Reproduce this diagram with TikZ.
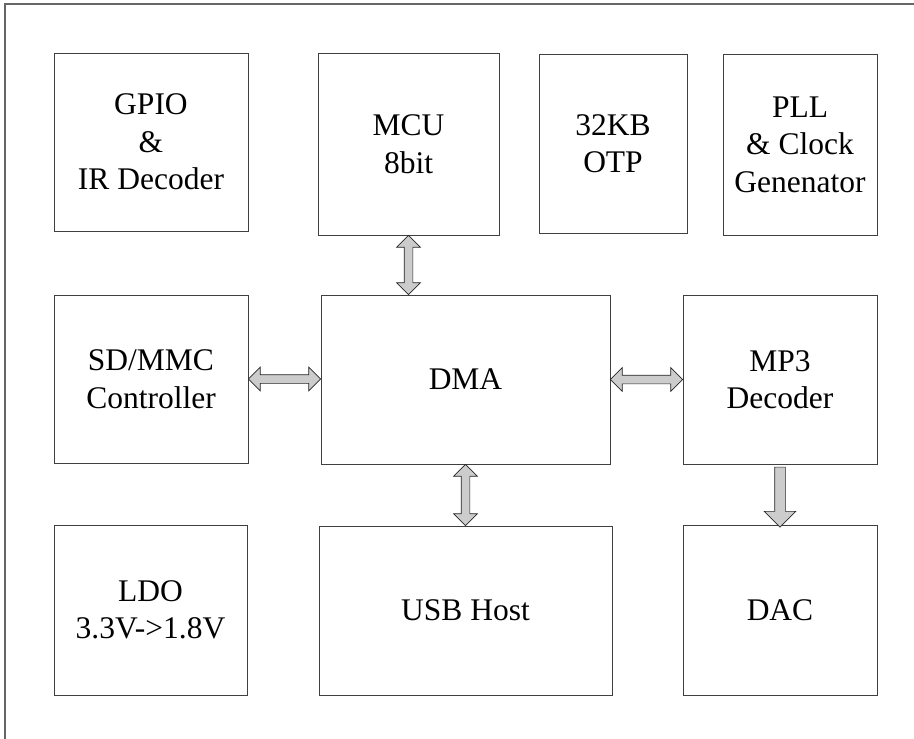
\documentclass[tikz,border=0pt]{standalone}
\usepackage{fontspec}
\setmainfont{Liberation Serif}
\usetikzlibrary{shapes.arrows,calc}
\tikzset{
	blk/.style={draw=black!75, line width=0.9pt, inner sep=0pt, align=center, font=\fontsize{31.5}{37.5}\selectfont},
	busarrow/.style={double arrow, draw=black!85, fill=black!20, line width=0.7pt, inner xsep=0pt, inner ysep=4pt, double arrow head extend=7.5pt, double arrow tip angle=90, sloped, allow upside down},
	outarrow/.style={single arrow, draw=black!85, fill=black!20, line width=0.7pt, inner xsep=0pt, inner ysep=5pt, single arrow head extend=10.5pt, single arrow tip angle=90, sloped, allow upside down}
}
\begin{document}
\begin{tikzpicture}[x=1pt, y=-1pt]
			\useasboundingbox (0, 0) rectangle (914, 739);
			\draw[black!60, line width=1.3pt] (5, 739) -- (5, 4) -- (914, 4);
			\node[blk, minimum width=194pt, minimum height=178pt] (gpio) at (151, 142) {GPIO\\\&\\IR Decoder};
			\node[blk, minimum width=181pt, minimum height=182pt] (mcu) at (408.5, 144) {MCU\\8bit};
			\node[blk, minimum width=148pt, minimum height=179pt] (otp) at (613, 143.5) {32KB\\OTP};
			\node[blk, minimum width=154pt, minimum height=181pt] (pll) at (800, 144.5) {PLL\\\& Clock\\Genenator};
			\node[blk, minimum width=194pt, minimum height=168pt] (sd) at (151, 379) {SD/MMC\\Controller};
			\node[blk, minimum width=289pt, minimum height=169pt] (dma) at (465.5, 379.5) {DMA};
			\node[blk, minimum width=194pt, minimum height=169pt] (mp3) at (780, 379.5) {MP3\\Decoder};
			\node[blk, minimum width=193pt, minimum height=170pt] (ldo) at (150.5, 610) {LDO\\3.3V->1.8V};
			\node[blk, minimum width=293pt, minimum height=169pt] (usb) at (465.5, 610.5) {USB Host};
			\node[blk, minimum width=194pt, minimum height=170pt] (dac) at (780, 610) {DAC};
			\path let \p1=(mcu.south), \p2=(mcu.south |- dma.north), \n1={veclen(\x2-\x1,\y2-\y1)} in
				(\p1) -- (\p2) node[busarrow, midway, minimum height=\n1] (mcubus) {};
			\path let \p1=(dma.south), \p2=(dma.south |- usb.north), \n1={veclen(\x2-\x1,\y2-\y1)} in
				(\p1) -- (\p2) node[busarrow, midway, minimum height=\n1] (usbbus) {};
			\path let \p1=(sd.east), \p2=(sd.east -| dma.west), \n1={veclen(\x2-\x1,\y2-\y1)} in
				(\p1) -- (\p2) node[busarrow, midway, minimum height=\n1] (sdbus) {};
			\path let \p1=(dma.east), \p2=(dma.east -| mp3.west), \n1={veclen(\x2-\x1,\y2-\y1)} in
				(\p1) -- (\p2) node[busarrow, midway, minimum height=\n1] (mp3bus) {};
			\path let \p1=(mp3.south), \p2=(mp3.south |- dac.north), \n1={veclen(\x2-\x1,\y2-\y1)} in
				(\p1) -- (\p2) node[outarrow, midway, minimum height=\n1] (dacbus) {};
\end{tikzpicture}
\end{document}
